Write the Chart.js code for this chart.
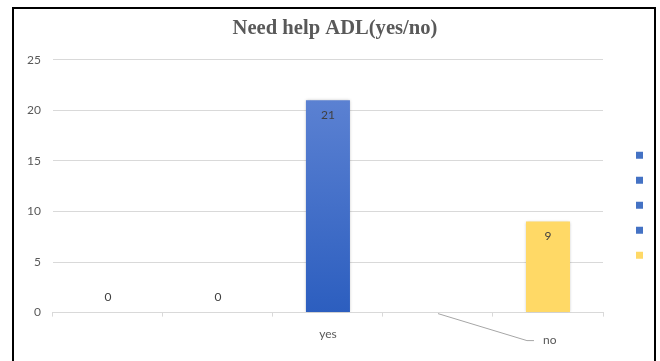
<!DOCTYPE html>
<html>
<head>
<meta charset="utf-8">
<script src="https://cdn.jsdelivr.net/npm/chart.js@4.4.0/dist/chart.umd.min.js"></script>
<style>
  html, body { margin: 0; padding: 0; background: #fff; }
  #marco { position: absolute; left: 12px; top: 7px; width: 640px; height: 400px; border: 2px solid #000; }
  #wrap { position: absolute; left: 0; top: 0; width: 660px; height: 361px; }
</style>
</head>
<body>
<div id="marco"></div>
<div id="wrap"><canvas id="myChart"></canvas></div>
<script>
const categorias = ['', '', 'yes', 'no', ''];
const valores = [0, 0, 21, null, 9];
const colores = ['#4472c4', '#4472c4', '#4472c4', '#4472c4', '#ffd966'];
const ticksY = [0, 5, 10, 15, 20, 25];

window.addEventListener("DOMContentLoaded", function (e) {

    Chart.defaults.font.family = 'Lato';
    Chart.defaults.font.size = 12;
    Chart.defaults.color = '#595959';

    // barras azules con degradado de arriba (claro) hacia abajo (oscuro)
    function relleno(c) {
        const chart = c.chart;
        const v = valores[c.dataIndex];
        if (!chart.chartArea || v === null) return colores[c.dataIndex];
        if (colores[c.dataIndex] !== '#4472c4') return colores[c.dataIndex];
        const y = chart.scales.y;
        const g = chart.ctx.createLinearGradient(0, y.getPixelForValue(v), 0, y.getPixelForValue(0));
        g.addColorStop(0, '#5b81d2');
        g.addColorStop(1, '#2c5ebf');
        return g;
    }

    // sombra suave de las barras
    const sombra = {
        id: 'sombra',
        beforeDatasetDraw(chart) {
            chart.ctx.save();
            chart.ctx.shadowColor = 'rgba(0,0,0,0.3)';
            chart.ctx.shadowBlur = 3;
        },
        afterDatasetDraw(chart) {
            chart.ctx.restore();
        }
    };

    // valores sobre/dentro de cada barra y la etiqueta "no" con su linea guia
    const etiquetas = {
        id: 'etiquetas',
        afterDatasetsDraw(chart) {
            const ctx = chart.ctx;
            const meta = chart.getDatasetMeta(0);
            ctx.save();
            ctx.font = '12px Lato';
            ctx.fillStyle = '#404040';
            ctx.textAlign = 'center';
            ctx.textBaseline = 'middle';
            meta.data.forEach((bar, i) => {
                const v = valores[i];
                if (v === null) return;
                ctx.fillText(String(v), bar.x, v > 0 ? bar.y + 15 : bar.y - 15);
            });

            const i = categorias.indexOf('no');
            const x = chart.scales.x.getPixelForValue(i);
            const y0 = chart.scales.y.getPixelForValue(0);
            ctx.strokeStyle = '#a6a6a6';
            ctx.lineWidth = 1;
            ctx.beginPath();
            ctx.moveTo(x, y0 + 1);
            ctx.lineTo(x + 89, y0 + 28);
            ctx.lineTo(x + 96, y0 + 28);
            ctx.stroke();
            ctx.fillStyle = '#595959';
            ctx.textAlign = 'left';
            ctx.fillText(categorias[i], x + 105, y0 + 28);
            ctx.restore();
        }
    };

    // corre la leyenda y el titulo a su sitio
    const ajuste = {
        id: 'ajuste',
        afterLayout(chart) {
            const lg = chart.legend;
            lg.left += 20; lg.right += 20;
            lg.top += 19; lg.bottom += 19;
            const t = chart.titleBlock;
            if (t) { t.left += 8; t.right += 8; }
        }
    };

    let ctx = document.getElementById('myChart');

    new Chart(ctx, {
        type: 'bar',
        data: {
            labels: categorias,
            datasets: [{
                label: 'Need help ADL',
                data: valores,
                borderWidth: 0,
                backgroundColor: relleno,
                categoryPercentage: 1,
                barPercentage: 0.4
            }]
        },
        options: {
            responsive: true,
            maintainAspectRatio: false,
            animation: false,
            layout: { padding: { top: 6, left: 15, right: 21, bottom: 10 } },
            scales: {
                x: {
                    grid: { display: true, drawOnChartArea: false, offset: true, tickLength: 4, color: '#d9d9d9' },
                    border: { color: '#d9d9d9' },
                    ticks: {
                        padding: 10,
                        maxRotation: 0,
                        callback: function (v, i) { return categorias[i] === 'no' ? '' : categorias[i]; }
                    }
                },
                y: {
                    min: 0,
                    max: ticksY[ticksY.length - 1],
                    grid: { color: '#d9d9d9', drawTicks: false },
                    border: { display: false },
                    afterBuildTicks: function (s) { s.ticks = ticksY.map(v => ({ value: v })); },
                    ticks: { padding: 12 }
                }
            },
            plugins: {
                title: {
                    display: true,
                    text: 'Need help ADL(yes/no)',
                    color: '#595959',
                    font: { family: 'Liberation Serif', size: 20.6, weight: 'bold' },
                    padding: { top: 10, bottom: 19 }
                },
                legend: {
                    position: 'right',
                    fullSize: false,
                    onClick: null,
                    labels: {
                        boxWidth: 7,
                        boxHeight: 7,
                        padding: 13,
                        generateLabels: () => colores.map(c => ({ text: '', fillStyle: c, strokeStyle: c, lineWidth: 0 }))
                    }
                },
                tooltip: { enabled: false }
            }
        },
        plugins: [sombra, etiquetas, ajuste]
    });

});
</script>
</body>
</html>
